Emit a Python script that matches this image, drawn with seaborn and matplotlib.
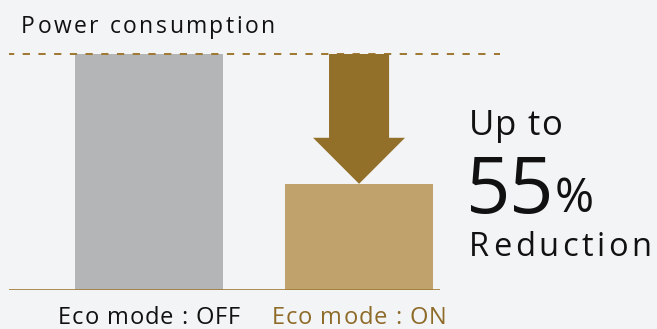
import matplotlib
matplotlib.use("Agg")
import matplotlib.pyplot as plt
from matplotlib.font_manager import FontProperties, findfont, get_font
import seaborn as sns
import pandas as pd

# Chart data
modes = ["Eco mode : OFF", "Eco mode : ON"]
consumption = [100, 45]
bar_colors = ["#b4b5b7", "#bfa26c"]
label_colors = ["#111111", "#8f6b2a"]
reduction_pct = 55

sns.set_theme(style="white")
FAMILY = ["Open Sans", "DejaVu Sans"]
plt.rcParams["font.family"] = FAMILY

W, H, DPI = 657, 329, 100
BG = "#f3f4f6"
GOLD = "#a07a35"
ARROW = "#93702a"
INK = "#111111"

fig = plt.figure(figsize=(W / DPI, H / DPI), dpi=DPI, facecolor=BG)
ax = fig.add_axes([0.0, 39 / H, 1.0, 0.80])
ax.set_facecolor(BG)

df = pd.DataFrame({"mode": modes, "value": consumption})
sns.barplot(data=df, x="mode", y="value", hue="mode", palette=bar_colors,
            width=0.705, legend=False, ax=ax, saturation=1, linewidth=0)

ax.set_xlim(-0.71, 2.419)
ax.set_ylim(0, 100 * 0.80 * H / 236)

x_left = -0.667
# reference level (dashed) and baseline
ax.hlines(consumption[0], x_left, 1.67, color=GOLD, lw=1.45,
          linestyles=(1.0, (3.6, 4.2)), zorder=1)
ax.hlines(0, x_left, 1.386, color=GOLD, lw=1.2, zorder=3)

# downward arrow showing the reduction
ax.arrow(1, consumption[0], 0, -(consumption[0] - consumption[1]),
         width=0.286, head_width=0.438, head_length=19.5,
         length_includes_head=True, color=ARROW, lw=0, zorder=4)

for s in ax.spines.values():
    s.set_visible(False)
ax.set_xticks([])
ax.set_yticks([])
ax.set_xlabel("")
ax.set_ylabel("")

_font_path = findfont(FontProperties(family="Open Sans"))


def advances(s, size):
    font = get_font(_font_path)
    font.set_size(size, DPI)
    out = []
    for ch in s:
        g = font.load_char(ord(ch))
        out.append(g.linearHoriAdvance / 65536)
    return out


def spaced_text(x_px, base_px, s, size, color, tracking=0.0, ha="left"):
    """Draw text letter by letter with extra spacing, positions in pixels."""
    adv = advances(s, size)
    total = sum(adv) + tracking * (len(s) - 1)
    x = x_px - total / 2 if ha == "center" else x_px
    for ch, a in zip(s, adv):
        if ch != " ":
            fig.text(x / W, 1 - base_px / H, ch, fontsize=size, color=color,
                     va="baseline", ha="left")
        x += a + tracking


# category labels under the bars
fig.canvas.draw()
for i, (name, col) in enumerate(zip(modes, label_colors)):
    cx = ax.transData.transform((i, 0))[0]
    spaced_text(cx, 324, name, 17, col, tracking=0.95, ha="center")

spaced_text(21, 33, "Power consumption", 16.5, INK, tracking=2.5)
spaced_text(469, 135, "Up to", 25, INK, tracking=1.0)
spaced_text(466, 213, f"{reduction_pct}", 56, INK, tracking=-1.0)
spaced_text(555, 212, "%", 34, INK)
spaced_text(469, 256, "Reduction", 23.5, INK, tracking=3.6)

fig.savefig("out.png", dpi=DPI, facecolor=BG)
